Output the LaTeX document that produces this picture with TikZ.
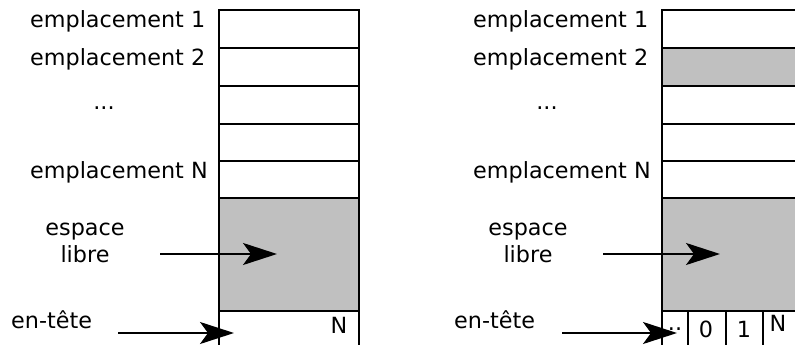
\documentclass[tikz,border=0pt]{standalone}
\usepackage{fontspec}
\setmainfont{DejaVu Sans}
\usetikzlibrary{arrows.meta}
\definecolor{freegray}{RGB}{192,192,192}
\begin{document}
\begin{tikzpicture}[x=1pt,y=-1pt,
  lbl/.style={font=\fontsize{22.3}{26}\selectfont, inner sep=0pt, anchor=base west},
  clbl/.style={font=\fontsize{22.3}{26}\selectfont, inner sep=0pt, anchor=base},
  boxline/.style={line width=2pt, line join=miter},
  ptr/.style={line width=2pt, -{Stealth[length=34pt,width=22pt,inset=8pt]}},
  free/.style={fill=freegray}]
\useasboundingbox (0,0) rectangle (795,345);
\clip (0,0) rectangle (795,345);

% ---------- left panel ----------
\fill[free] (219,198) rectangle (359,311);
\draw[boxline] (219,345) -- (219,10) -- (359,10) -- (359,345);
\foreach \y in {48,86,124,161,198,311} \draw[boxline] (219,\y) -- (359,\y);

\node[lbl] (la1) at (30,28) {emplacement 1};
\node[lbl] (la2) at (30,66) {emplacement 2};
\node[clbl] (ladots) at (104,110) {...};
\node[lbl] (laN) at (30,178) {emplacement N};
\node[clbl] (lesp) at (85,235) {espace};
\node[clbl] (llib) at (85,262) {libre};
\node[lbl] (lhead) at (11,328) {en-tête};
\node[clbl] (lNcell) at (339,333) {N};

\coordinate (lfs) at (160,254);
\coordinate (lft) at (277,254);
\draw[ptr] (lfs) -- (lft);
\coordinate (lhs) at (118,333);
\coordinate (lht) at (234,333);
\draw[ptr] (lhs) -- (lht);

% ---------- right panel ----------
\fill[free] (662,48) rectangle (802,86);
\fill[free] (662,198) rectangle (802,311);
\draw[boxline] (662,345) -- (662,10) -- (802,10);
\foreach \y in {48,86,124,161,198,311} \draw[boxline] (662,\y) -- (802,\y);
\foreach \x in {688,726,763} \draw[boxline] (\x,311) -- (\x,345);

\node[lbl] (ra1) at (473,28) {emplacement 1};
\node[lbl] (ra2) at (473,66) {emplacement 2};
\node[clbl] (rdots) at (547,110) {...};
\node[lbl] (raN) at (473,178) {emplacement N};
\node[clbl] (resp) at (528,235) {espace};
\node[clbl] (rlib) at (528,262) {libre};
\node[lbl] (rhead) at (454,328) {en-tête};
\node[clbl] (rc0) at (675,330) {..};
\node[clbl] (rc1) at (706,337) {0};
\node[clbl] (rc2) at (744,337) {1};
\node[clbl] (rc3) at (778,331) {N};

\coordinate (rfs) at (603,254);
\coordinate (rft) at (720,254);
\draw[ptr] (rfs) -- (rft);
\coordinate (rhs) at (562,333);
\coordinate (rht) at (677,333);
\draw[ptr] (rhs) -- (rht);
\end{tikzpicture}
\end{document}
